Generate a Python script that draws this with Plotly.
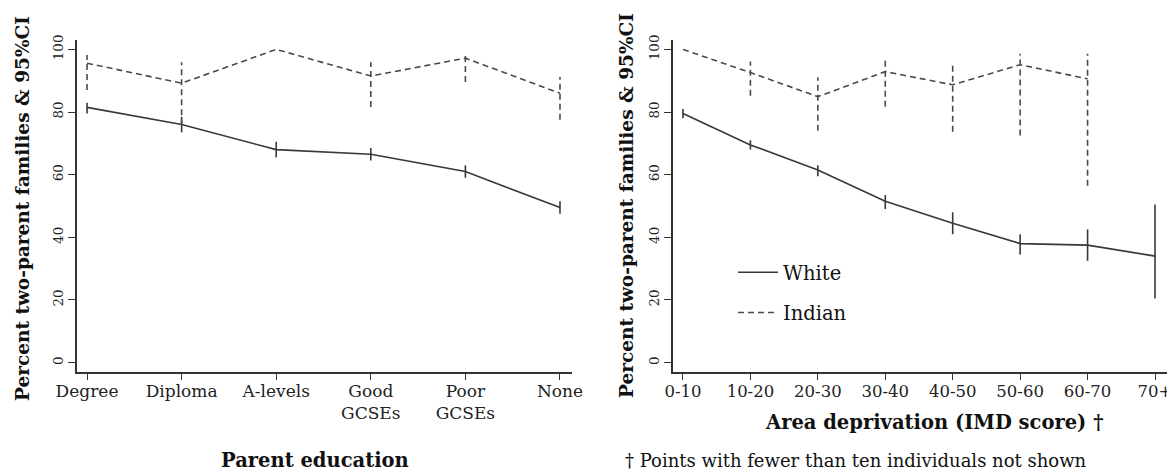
import plotly.graph_objects as go

# ---------------- data ----------------
edu_cats = ["Degree", "Diploma", "A-levels", "Good<br>GCSEs", "Poor<br>GCSEs", "None"]
white_edu = [81.5, 76.0, 68.0, 66.5, 61.0, 49.5]
white_edu_lo = [79.5, 73.5, 65.5, 64.5, 59.0, 47.5]
white_edu_hi = [83.0, 78.5, 70.5, 68.5, 63.0, 51.5]
indian_edu = [95.6, 89.2, 100.0, 91.5, 97.2, 86.0]
indian_edu_lo = [87.0, 75.8, None, 81.6, 89.6, 77.5]
indian_edu_hi = [98.2, 95.9, None, 95.9, 99.1, 91.2]

imd_cats = ["0-10", "10-20", "20-30", "30-40", "40-50", "50-60", "60-70", "70+"]
white_imd = [79.5, 69.5, 61.5, 51.5, 44.5, 38.0, 37.5, 34.0]
white_imd_lo = [78.0, 68.0, 59.5, 49.0, 41.0, 34.5, 32.5, 20.5]
white_imd_hi = [81.0, 71.0, 63.0, 53.5, 48.0, 41.0, 42.5, 50.5]
indian_imd = [100.0, 92.6, 84.9, 92.9, 88.7, 95.1, 90.6, None]
indian_imd_lo = [None, 85.2, 74.0, 81.7, 73.7, 72.5, 56.5, None]
indian_imd_hi = [None, 96.1, 91.1, 96.4, 95.4, 98.6, 98.6, None]

y_ticks = [0, 20, 40, 60, 80, 100]

FONT = "DejaVu Serif"
WHITE_COL = "#383838"
INDIAN_COL = "#4a4a4a"
OFF = 8  # page body margin
W, H = 1175 - OFF, 472 - OFF


def px(x):
    return (x - OFF) / W


def py(y):
    return 1 - (y - OFF) / H


def ci_segments(n, lo, hi):
    xs, ys = [], []
    for i in range(n):
        if lo[i] is None or hi[i] is None:
            continue
        xs += [i, i, None]
        ys += [lo[i], hi[i], None]
    return xs, ys


fig = go.Figure()

panels = [
    ("x", "y", edu_cats, white_edu, white_edu_lo, white_edu_hi,
     indian_edu, indian_edu_lo, indian_edu_hi, False),
    ("x2", "y2", imd_cats, white_imd, white_imd_lo, white_imd_hi,
     indian_imd, indian_imd_lo, indian_imd_hi, True),
]

for xa, ya, cats, w, wlo, whi, ind, ilo, ihi, legend in panels:
    n = len(cats)
    idx = list(range(n))
    fig.add_trace(go.Scatter(x=idx, y=w, xaxis=xa, yaxis=ya, mode="lines",
                             name="White", legendgroup="w", showlegend=legend,
                             line=dict(color=WHITE_COL, width=1.6)))
    cx, cy = ci_segments(n, wlo, whi)
    fig.add_trace(go.Scatter(x=cx, y=cy, xaxis=xa, yaxis=ya, mode="lines",
                             showlegend=False, hoverinfo="skip",
                             line=dict(color=WHITE_COL, width=1.6)))
    fig.add_trace(go.Scatter(x=idx, y=ind, xaxis=xa, yaxis=ya, mode="lines",
                             name="Indian", legendgroup="i", showlegend=legend,
                             line=dict(color=INDIAN_COL, width=1.6, dash="6px,4px")))
    cx, cy = ci_segments(n, ilo, ihi)
    fig.add_trace(go.Scatter(x=cx, y=cy, xaxis=xa, yaxis=ya, mode="lines",
                             showlegend=False, hoverinfo="skip",
                             line=dict(color=INDIAN_COL, width=1.6, dash="6px,4px")))

ydom = [py(372), py(40)]
common_y = dict(range=[-3, 103], tickvals=y_ticks, tickangle=-90, ticks="outside",
                ticklen=7, tickwidth=1.2, tickcolor="#333", showline=True,
                linecolor="#333", linewidth=1.6, showgrid=False, zeroline=False,
                automargin=False,
                tickfont=dict(family=FONT, size=13.5, color="#222"), domain=ydom)
common_x = dict(ticks="outside", ticklen=6, tickwidth=1.2, tickcolor="#333",
                showline=True, linecolor="#333", linewidth=1.6, showgrid=False,
                zeroline=False, tickangle=0, automargin=False, ticklabelstandoff=-3,
                tickfont=dict(family=FONT, size=17, color="#222"))

fig.update_layout(
    width=W, height=H,
    margin=dict(l=0, r=0, t=0, b=0, pad=0),
    paper_bgcolor="white", plot_bgcolor="white",
    font=dict(family=FONT, color="#111"),
    xaxis=dict(common_x, domain=[px(77), px(572)], range=[-0.106, 5.127],
               tickvals=list(range(len(edu_cats))), ticktext=edu_cats, anchor="y"),
    yaxis=dict(common_y, anchor="x"),
    xaxis2=dict(common_x, domain=[px(673), px(1167)], range=[-0.148, 7.178],
                tickvals=list(range(len(imd_cats))), ticktext=imd_cats, anchor="y2",
                tickfont=dict(family=FONT, size=16.5, color="#222")),
    yaxis2=dict(common_y, anchor="x2"),
    showlegend=True,
    legend=dict(x=px(733), y=py(253), xanchor="left", yanchor="top",
                bgcolor="rgba(0,0,0,0)", font=dict(family=FONT, size=19.5, color="#111"),
                tracegroupgap=12, itemwidth=40),
)

YFONT = dict(family=FONT, size=18.5, color="#111")
XFONT = dict(family=FONT, size=19.5, color="#111")
ytitle = "Percent two-parent families &amp; 95%CI"
fig.add_annotation(text="<b>" + ytitle + "</b>", x=px(22), y=py(209),
                   xref="paper", yref="paper", textangle=-90, showarrow=False,
                   xanchor="center", yanchor="middle", font=YFONT)
fig.add_annotation(text="<b>" + ytitle + "</b>", x=px(627), y=py(205),
                   xref="paper", yref="paper", textangle=-90, showarrow=False,
                   xanchor="center", yanchor="middle", font=YFONT)
fig.add_annotation(text="<b>Parent education</b>", x=px(315), y=py(460),
                   xref="paper", yref="paper", showarrow=False,
                   xanchor="center", yanchor="middle", font=XFONT)
fig.add_annotation(text="<b>Area deprivation (IMD score) †</b>", x=px(934), y=py(422),
                   xref="paper", yref="paper", showarrow=False,
                   xanchor="center", yanchor="middle", font=XFONT)
fig.add_annotation(text="† Points with fewer than ten individuals not shown",
                   x=px(623), y=py(460), xref="paper", yref="paper",
                   xanchor="left", yanchor="middle", showarrow=False,
                   font=dict(family=FONT, size=18, color="#111"))

fig.write_html("out.html")
